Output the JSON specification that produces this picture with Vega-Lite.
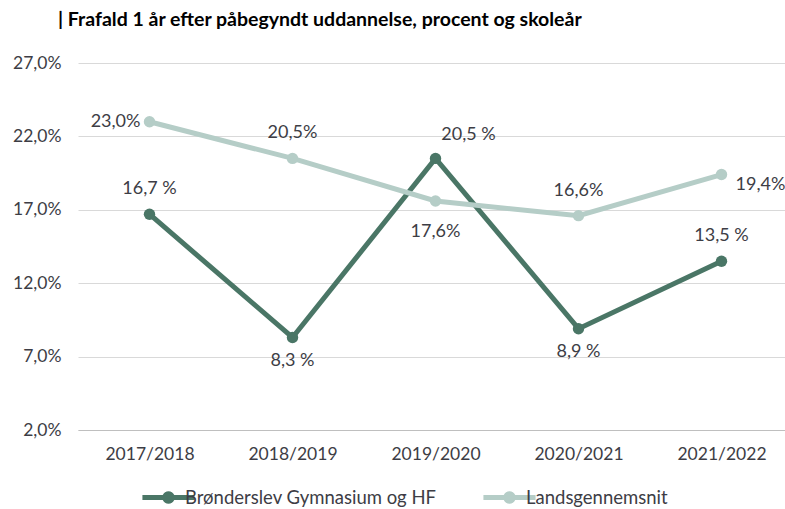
{
  "$schema": "https://vega.github.io/schema/vega-lite/v6.json",
  "autosize": "none",
  "width": 715,
  "height": 367,
  "padding": {"left": 78, "top": 63, "right": 0, "bottom": 79},
  "background": "white",
  "config": {"view": {"stroke": null}, "font": "Lato"},
  "title": {
    "text": "| Frafald 1 år efter påbegyndt uddannelse, procent og skoleår",
    "font": "Lato", "fontSize": 19.5, "fontWeight": "bold", "color": "#000000",
    "anchor": "start", "frame": "group", "offset": 24, "dx": -20
  },
  "data": {"values": [
    {"year": "2017/2018", "series": "Brønderslev Gymnasium og HF", "value": 16.7, "label": "16,7 %"},
    {"year": "2018/2019", "series": "Brønderslev Gymnasium og HF", "value": 8.3, "label": "8,3 %"},
    {"year": "2019/2020", "series": "Brønderslev Gymnasium og HF", "value": 20.5, "label": "20,5 %"},
    {"year": "2020/2021", "series": "Brønderslev Gymnasium og HF", "value": 8.9, "label": "8,9 %"},
    {"year": "2021/2022", "series": "Brønderslev Gymnasium og HF", "value": 13.5, "label": "13,5 %"},
    {"year": "2017/2018", "series": "Landsgennemsnit", "value": 23.0, "label": "23,0%"},
    {"year": "2018/2019", "series": "Landsgennemsnit", "value": 20.5, "label": "20,5%"},
    {"year": "2019/2020", "series": "Landsgennemsnit", "value": 17.6, "label": "17,6%"},
    {"year": "2020/2021", "series": "Landsgennemsnit", "value": 16.6, "label": "16,6%"},
    {"year": "2021/2022", "series": "Landsgennemsnit", "value": 19.4, "label": "19,4%"}
  ]},
  "encoding": {
    "x": {"field": "year", "type": "ordinal", "scale": {"type": "point", "padding": 0.5},
      "axis": {"title": null, "labelAngle": 0, "labelFont": "Lato", "labelFontSize": 17.5, "labelColor": "#3d3d45",
        "ticks": false, "domainColor": "#bfbfbf", "domainWidth": 1, "labelPadding": 15}},
    "y": {"field": "value", "type": "quantitative",
      "scale": {"domain": [2, 27], "nice": false, "zero": false},
      "axis": {"title": null, "values": [2, 7, 12, 17, 22, 27],
        "labelExpr": "replace(format(datum.value, '.1f'), '.', ',') + '%'",
        "labelFont": "Lato", "labelFontSize": 17.5, "labelColor": "#3d3d45", "labelPadding": 17,
        "ticks": false, "domain": false, "gridColor": "#d9d9d9", "gridWidth": 1}}
  },
  "layer": [
    {
      "mark": {"type": "line", "strokeWidth": 5},
      "encoding": {
        "color": {"field": "series", "type": "nominal",
          "scale": {"domain": ["Brønderslev Gymnasium og HF", "Landsgennemsnit"], "range": ["#4a7666", "#b5cdc7"]},
          "legend": {"title": null, "orient": "none", "direction": "horizontal", "legendX": 77, "legendY": 421,
            "symbolType": "M-2,-0.2 L-0.44,-0.2 A0.48,0.48 0 0 1 0.44,-0.2 L2,-0.2 L2,0.2 L0.44,0.2 A0.48,0.48 0 0 1 -0.44,0.2 L-2,0.2 Z",
            "symbolSize": 680, "symbolStrokeWidth": 0, "labelFont": "Lato", "labelFontSize": 18.5, "labelColor": "#3d3d45",
            "labelLimit": 0, "labelOffset": 3, "columnPadding": 46, "symbolOffset": 0}},
        "order": {"field": "series"}
      }
    },
    {
      "mark": {"type": "point", "filled": true, "size": 130, "opacity": 1},
      "encoding": {
        "color": {"field": "series", "type": "nominal", "legend": null}
      }
    },
    {
      "transform": [{"filter": "datum.series == 'Brønderslev Gymnasium og HF' && (datum.year == '2017/2018' || datum.year == '2021/2022')"}],
      "mark": {"type": "text", "dy": -25, "fontSize": 18, "font": "Lato", "color": "#3d3d45"},
      "encoding": {"text": {"field": "label"}}
    },
    {
      "transform": [{"filter": "datum.series == 'Brønderslev Gymnasium og HF' && (datum.year == '2018/2019' || datum.year == '2020/2021')"}],
      "mark": {"type": "text", "dy": 23, "fontSize": 18, "font": "Lato", "color": "#3d3d45"},
      "encoding": {"text": {"field": "label"}}
    },
    {
      "transform": [{"filter": "datum.series == 'Brønderslev Gymnasium og HF' && datum.year == '2019/2020'"}],
      "mark": {"type": "text", "dy": -23, "dx": 33, "fontSize": 18, "font": "Lato", "color": "#3d3d45"},
      "encoding": {"text": {"field": "label"}}
    },
    {
      "transform": [{"filter": "datum.series == 'Landsgennemsnit' && datum.year == '2017/2018'"}],
      "mark": {"type": "text", "dx": -9, "align": "right", "fontSize": 18, "font": "Lato", "color": "#3d3d45"},
      "encoding": {"text": {"field": "label"}}
    },
    {
      "transform": [{"filter": "datum.series == 'Landsgennemsnit' && (datum.year == '2018/2019' || datum.year == '2020/2021')"}],
      "mark": {"type": "text", "dy": -25, "fontSize": 18, "font": "Lato", "color": "#3d3d45"},
      "encoding": {"text": {"field": "label"}}
    },
    {
      "transform": [{"filter": "datum.series == 'Landsgennemsnit' && datum.year == '2019/2020'"}],
      "mark": {"type": "text", "dy": 31, "fontSize": 18, "font": "Lato", "color": "#3d3d45"},
      "encoding": {"text": {"field": "label"}}
    },
    {
      "transform": [{"filter": "datum.series == 'Landsgennemsnit' && datum.year == '2021/2022'"}],
      "mark": {"type": "text", "dx": 14, "dy": 10, "align": "left", "fontSize": 18, "font": "Lato", "color": "#3d3d45"},
      "encoding": {"text": {"field": "label"}}
    }
  ]
}
